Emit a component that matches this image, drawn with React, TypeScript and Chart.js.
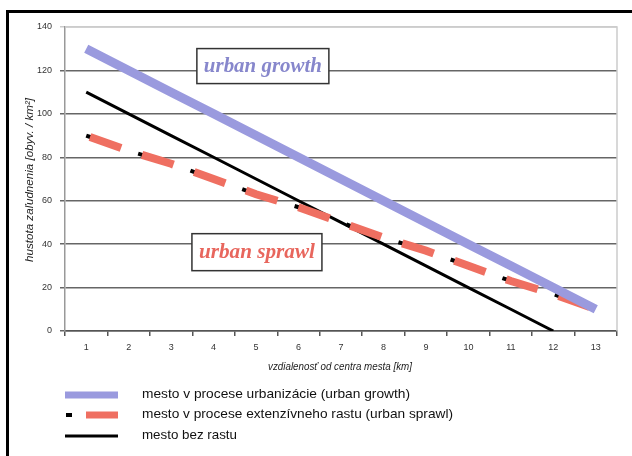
import React, { useEffect, useRef } from "react";
import { Chart, registerables } from "chart.js";

Chart.register(...registerables);

const categories = ["1", "2", "3", "4", "5", "6", "7", "8", "9", "10", "11", "12", "13"];
const urbanGrowth = [130, 120, 110, 100, 90, 80, 70, 60, 50, 40, 30, 20, 10];
const urbanSprawl = [90, 83, 77, 70, 63, 57, 50, 43, 37, 30, 23, 17, 10];
const noGrowth = [110, 100, 90, 80, 70, 60, 50, 40, 30, 20, 10, 0, null];
const yMin = 0;
const yMax = 140;
const yStep = 20;
const legendLabels = [
  "mesto v procese urbanizácie (urban growth)",
  "mesto v procese extenzívneho rastu (urban sprawl)",
  "mesto bez rastu",
];
const yTitle = "hustota zaľudnenia [obyv. / km²]";
const xTitle = "vzdialenosť od centra mesta [km]";
const growthLabel = "urban growth";
const sprawlLabel = "urban sprawl";

const PURPLE = "#9a9ade";
const RED = "#ef6f61";

function fitText(
  ctx: CanvasRenderingContext2D,
  text: string,
  x: number,
  y: number,
  target: number,
  align: CanvasTextAlign
) {
  const w = ctx.measureText(text).width;
  let s = target / w;
  if (s > 1.2) s = 1.2;
  if (s < 0.7) s = 0.7;
  ctx.save();
  ctx.translate(x, y);
  ctx.scale(s, 1);
  ctx.textAlign = align;
  ctx.fillText(text, 0, 0);
  ctx.restore();
}

const decorPlugin = {
  id: "decor",
  beforeDatasetsDraw(chart: any) {
    const { ctx, chartArea } = chart;
    ctx.save();
    ctx.strokeStyle = "#cccccc";
    ctx.lineWidth = 1.5;
    ctx.beginPath();
    ctx.moveTo(chartArea.left, chartArea.top);
    ctx.lineTo(chartArea.right, chartArea.top);
    ctx.lineTo(chartArea.right, chartArea.bottom);
    ctx.stroke();
    ctx.restore();
  },
  afterDatasetsDraw(chart: any) {
    const { ctx, scales } = chart;
    const xs = scales.x;
    const ys = scales.y;
    const drawBox = (label: string, xi: number, yv: number, color: string, w: number, h: number) => {
      const x0 = xs.getPixelForValue(Math.floor(xi));
      const x1 = xs.getPixelForValue(Math.floor(xi) + 1);
      const cx = x0 + (x1 - x0) * (xi - Math.floor(xi));
      const cy = ys.getPixelForValue(yv);
      ctx.save();
      ctx.fillStyle = "#ffffff";
      ctx.fillRect(cx - w / 2, cy - h / 2, w, h);
      ctx.strokeStyle = "#333333";
      ctx.lineWidth = 1.5;
      ctx.strokeRect(cx - w / 2, cy - h / 2, w, h);
      ctx.fillStyle = color;
      ctx.font = "italic bold 20px 'Liberation Serif', 'DejaVu Serif', serif";
      ctx.textBaseline = "middle";
      fitText(ctx, label, cx, cy + 1, w - 14, "center");
      ctx.restore();
    };
    drawBox(growthLabel, 4.16, 122, "#8787cc", 132, 35);
    drawBox(sprawlLabel, 4.02, 36.3, "#e8665d", 130, 37);
  },
  afterDraw(chart: any) {
    const { ctx, chartArea } = chart;
    ctx.save();
    // axis titles
    ctx.fillStyle = "#222222";
    ctx.textBaseline = "middle";
    ctx.font = "italic 11px 'Liberation Sans', Arial, sans-serif";
    ctx.save();
    ctx.translate(30, (chartArea.top + chartArea.bottom) / 2 + 1);
    ctx.rotate(-Math.PI / 2);
    fitText(ctx, yTitle, 0, 0, 164, "center");
    ctx.restore();
    fitText(ctx, xTitle, 340, 367, 144, "center");

    // legend
    const sx0 = 65;
    const sx1 = 118;
    const tx = 142;
    const rows = [395, 415, 436];
    const widths = [268, 311, 95];
    ctx.lineCap = "butt";
    // row 1
    ctx.strokeStyle = PURPLE;
    ctx.lineWidth = 7;
    ctx.beginPath();
    ctx.moveTo(sx0, rows[0]);
    ctx.lineTo(sx1, rows[0]);
    ctx.stroke();
    // row 2
    ctx.strokeStyle = "#000000";
    ctx.lineWidth = 4;
    ctx.beginPath();
    ctx.moveTo(sx0 + 1, rows[1]);
    ctx.lineTo(sx0 + 7, rows[1]);
    ctx.stroke();
    ctx.strokeStyle = RED;
    ctx.lineWidth = 7;
    ctx.beginPath();
    ctx.moveTo(sx0 + 21, rows[1]);
    ctx.lineTo(sx1, rows[1]);
    ctx.stroke();
    // row 3
    ctx.strokeStyle = "#000000";
    ctx.lineWidth = 3;
    ctx.beginPath();
    ctx.moveTo(sx0, rows[2]);
    ctx.lineTo(sx1, rows[2]);
    ctx.stroke();

    ctx.fillStyle = "#111111";
    ctx.font = "13px 'Liberation Sans', Arial, sans-serif";
    legendLabels.forEach((t, i) => {
      fitText(ctx, t, tx, rows[i] - 1, widths[i], "left");
    });
    ctx.restore();
  },
};

export default function App() {
  const ref = useRef<HTMLCanvasElement | null>(null);

  useEffect(() => {
    if (!ref.current) return;
    const chart = new Chart(ref.current, {
      type: "line",
      data: {
        labels: categories,
        datasets: [
          {
            label: legendLabels[0],
            data: urbanGrowth,
            borderColor: PURPLE,
            borderWidth: 9,
            pointRadius: 0,
            borderCapStyle: "butt",
            order: 0,
          },
          {
            label: legendLabels[1],
            data: urbanSprawl,
            borderColor: RED,
            borderWidth: 8,
            borderDash: [33, 22],
            borderDashOffset: -4,
            pointRadius: 0,
            borderCapStyle: "butt",
            order: 1,
          },
          {
            label: legendLabels[1] + " (b)",
            data: urbanSprawl,
            borderColor: "#000000",
            borderWidth: 4,
            borderDash: [5, 50],
            borderDashOffset: 0,
            pointRadius: 0,
            borderCapStyle: "butt",
            order: 2,
          },
          {
            label: legendLabels[2],
            data: noGrowth,
            borderColor: "#000000",
            borderWidth: 3,
            pointRadius: 0,
            borderCapStyle: "butt",
            order: 3,
          },
        ],
      },
      options: {
        animation: false,
        responsive: false,
        maintainAspectRatio: false,
        devicePixelRatio: 1,
        layout: { padding: { left: 0, top: 27, right: 15, bottom: 100 } },
        plugins: {
          legend: { display: false },
          tooltip: { enabled: false },
        },
        elements: { line: { tension: 0 } },
        scales: {
          x: {
            type: "category",
            offset: true,
            afterFit: (s: any) => {
              s.height = 25;
            },
            grid: {
              offset: true,
              drawOnChartArea: false,
              drawTicks: true,
              tickLength: 5,
              color: "#555555",
              lineWidth: 1.5,
            },
            border: { display: true, color: "#555555", width: 1.5 },
            ticks: {
              padding: 6,
              color: "#333333",
              font: { family: "'Liberation Sans', Arial, sans-serif", size: 9 },
              maxRotation: 0,
            },
          },
          y: {
            min: yMin,
            max: yMax,
            afterFit: (s: any) => {
              s.width = 65;
            },
            grid: {
              drawTicks: true,
              tickLength: 5,
              color: (c: any) => (c.tick && c.tick.value === yMax ? "#cccccc" : "#666666"),
              lineWidth: 1.5,
            },
            border: { display: true, color: "#999999", width: 1.5 },
            ticks: {
              stepSize: yStep,
              padding: 8,
              color: "#333333",
              font: { family: "'Liberation Sans', Arial, sans-serif", size: 9 },
            },
          },
        },
      },
      plugins: [decorPlugin],
    } as any);
    return () => chart.destroy();
  }, []);

  return (
    <div
      style={{
        position: "fixed",
        left: 0,
        top: 0,
        width: 632,
        height: 456,
        overflow: "hidden",
        background: "#ffffff",
      }}
    >
      <div
        style={{
          position: "absolute",
          left: 6,
          top: 10,
          width: 700,
          height: 500,
          border: "3px solid #000000",
        }}
      />
      <canvas
        ref={ref}
        width={632}
        height={456}
        style={{ position: "absolute", left: 0, top: 0, width: 632, height: 456 }}
      />
    </div>
  );
}
